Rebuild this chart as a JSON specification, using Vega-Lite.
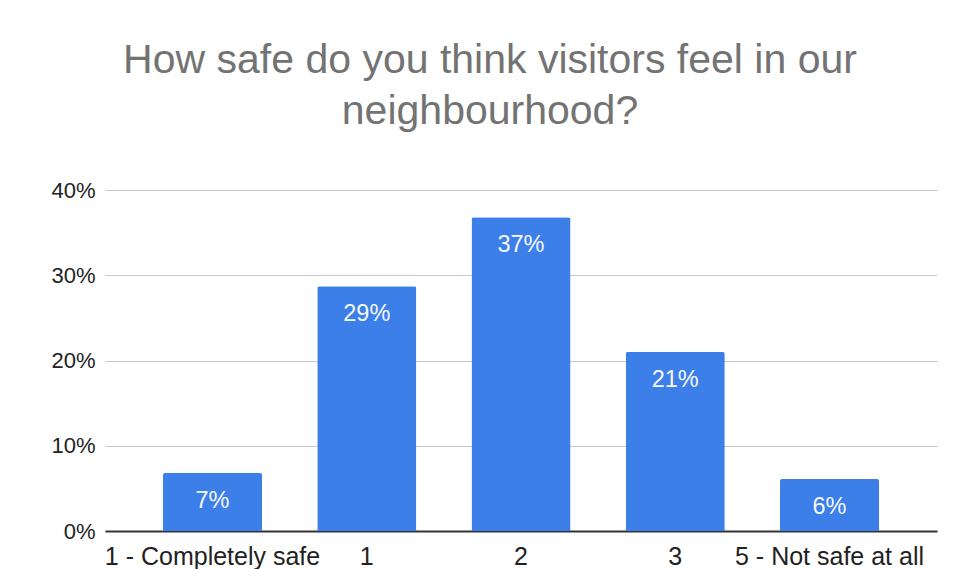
{
  "$schema": "https://vega.github.io/schema/vega-lite/v6.json",
  "width": 832,
  "height": 341,
  "autosize": {"type": "none"},
  "padding": {"left": 105, "top": 190, "right": 26, "bottom": 38},
  "background": "white",
  "view": {"stroke": null},
  "title": {
    "text": ["How safe do you think visitors feel in our", "neighbourhood?"],
    "font": "Liberation Sans",
    "fontSize": 41,
    "fontWeight": "normal",
    "color": "#737373",
    "anchor": "middle",
    "dx": -31,
    "offset": 46,
    "lineHeight": 51
  },
  "data": {
    "values": [
      {"answer": "1 - Completely safe", "share": 0.068},
      {"answer": "1", "share": 0.287},
      {"answer": "2", "share": 0.368},
      {"answer": "3", "share": 0.21},
      {"answer": "5 - Not safe at all", "share": 0.061}
    ]
  },
  "encoding": {
    "x": {
      "field": "answer",
      "type": "nominal",
      "sort": null,
      "scale": {"paddingInner": 0.358, "paddingOuter": 0.376},
      "axis": {
        "title": null,
        "labelAngle": 0,
        "labelFont": "Liberation Sans",
        "labelFontSize": 25,
        "labelColor": "#222222",
        "labelPadding": 13,
        "labelOverlap": false,
        "labelLimit": 0,
        "ticks": false,
        "domainColor": "#333333",
        "domainWidth": 2,
        "grid": false
      }
    },
    "y": {
      "field": "share",
      "type": "quantitative",
      "scale": {"domain": [0, 0.4], "nice": false},
      "axis": {
        "title": null,
        "format": ".0%",
        "values": [0, 0.1, 0.2, 0.3, 0.4],
        "labelFont": "Liberation Sans",
        "labelFontSize": 22,
        "labelColor": "#222222",
        "labelPadding": 10,
        "ticks": false,
        "domain": false,
        "grid": true,
        "gridColor": "#c8c8c8",
        "gridWidth": 1
      }
    }
  },
  "layer": [
    {"mark": {"type": "bar", "color": "#3d7fe8", "cornerRadiusTopLeft": 2, "cornerRadiusTopRight": 2}},
    {
      "mark": {"type": "text", "color": "#f4f8ff", "font": "Liberation Sans", "fontSize": 23.5, "baseline": "middle", "dy": 28},
      "encoding": {"text": {"field": "share", "type": "quantitative", "format": ".0%"}}
    }
  ]
}
